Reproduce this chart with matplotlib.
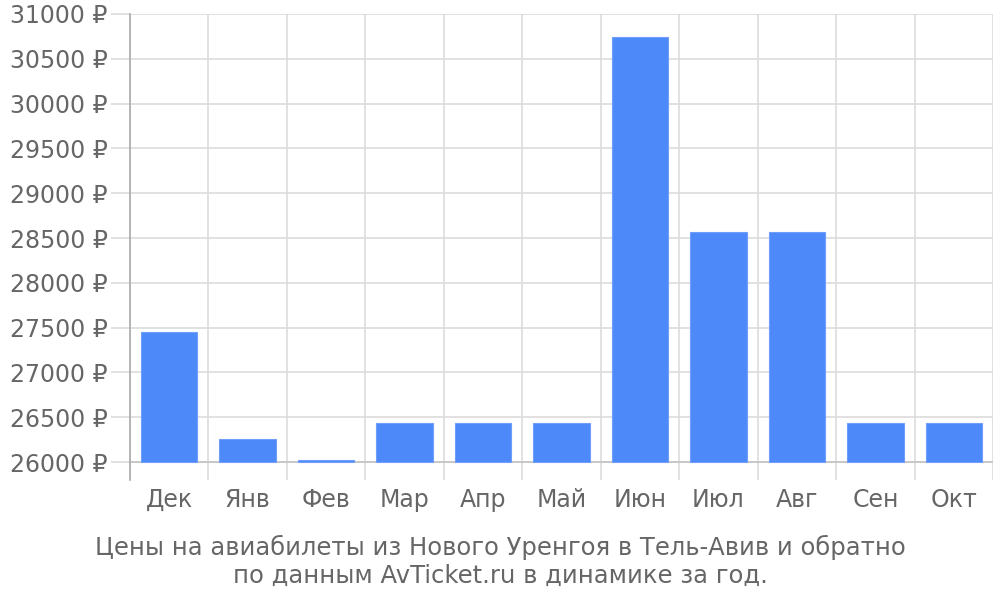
import matplotlib
matplotlib.use("Agg")
import matplotlib.pyplot as plt
import numpy as np

months = ["Дек", "Янв", "Фев", "Мар", "Апр", "Май", "Июн", "Июл", "Авг", "Сен", "Окт"]
prices = [27450, 26257, 26022, 26435, 26435, 26435, 30743, 28567, 28567, 26435, 26435]
base_value = 26000
y_ticks = list(range(26000, 31001, 500))
title_text = "Цены на авиабилеты из Нового Уренгоя в Тель-Авив и обратно\nпо данным AvTicket.ru в динамике за год."

plt.rcParams['font.family'] = ['DejaVu Sans']
text_color = "#666666"
grid_color = "#dcdcdc"

fig = plt.figure(figsize=(10, 6), dpi=100)
ax = fig.add_axes([0.13, 0.2, 0.863, 0.7767])

x = np.arange(len(months))
heights = [p - base_value for p in prices]
ax.bar(x, heights, bottom=base_value, width=0.72, color="#4d89f9",
       edgecolor="#6f9ffa", linewidth=0.8, zorder=3)

ax.set_xlim(-0.5, len(months) - 0.5)
ax.set_ylim(25800, 31000)

ax.set_yticks(y_ticks)
ax.set_yticklabels([f"{v} ₽" for v in y_ticks])
ax.set_xticks(x)
ax.set_xticklabels(months)
ax.set_xticks(np.arange(-0.5, len(months)), minor=True)

ax.grid(True, axis='y', which='major', color=grid_color, linewidth=1.2, zorder=0)
ax.grid(True, axis='x', which='minor', color=grid_color, linewidth=1.2, zorder=0)
ax.axhline(base_value, color="#c8c8c8", linewidth=1.4, zorder=2)

ax.tick_params(axis='y', which='major', length=14, width=1.2, color=grid_color,
               labelsize=17, labelcolor=text_color, pad=2)
ax.tick_params(axis='x', which='major', length=0, labelsize=17, labelcolor=text_color, pad=5.5)
ax.tick_params(axis='x', which='minor', length=0)

for s in ['top', 'right', 'bottom']:
    ax.spines[s].set_visible(False)
ax.spines['left'].set_color("#aaaaaa")
ax.spines['left'].set_linewidth(1.2)

fig.text(0.5, 0.064, title_text, ha='center', va='center', fontsize=17.5,
         color=text_color, linespacing=1.2)

fig.savefig("out.png", dpi=100)
